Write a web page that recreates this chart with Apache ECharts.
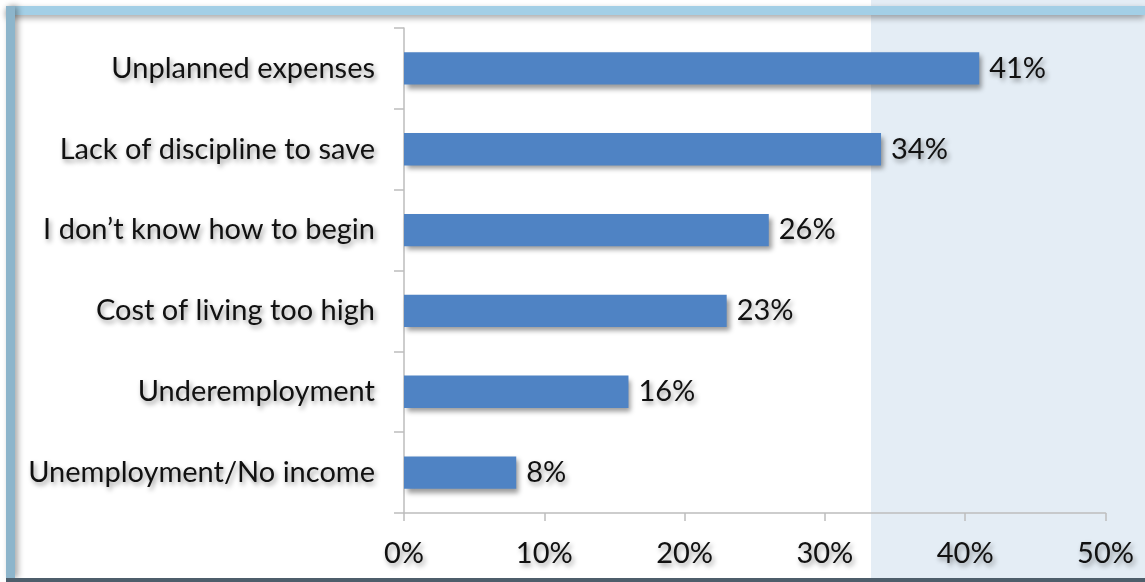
<!DOCTYPE html>
<html>
<head>
<meta charset="utf-8">
<script src="https://cdn.jsdelivr.net/npm/echarts@6/dist/echarts.min.js"></script>
<style>
  html, body { margin: 0; padding: 0; background: #ffffff; }
  #chart { width: 1145px; height: 582px; }
</style>
</head>
<body>
<div id="chart"></div>
<script>
// Reasons given for not saving, share of respondents (%)
const categories = [
  'Unplanned expenses',
  'Lack of discipline to save',
  'I don\u2019t know how to begin',
  'Cost of living too high',
  'Underemployment',
  'Unemployment/No income'
];
const shares = [41, 34, 26, 23, 16, 8];
const tickLabels = ['0%', '10%', '20%', '30%', '40%', '50%'];

const FONT = 'Lato, "Open Sans", sans-serif';
const FONT_SIZE = 29;
const textShadow = {
  textShadowColor: 'rgba(0,0,0,0.4)',
  textShadowBlur: 5,
  textShadowOffsetX: 2,
  textShadowOffsetY: 3
};

const chart = echarts.init(document.getElementById('chart'), null, { renderer: 'canvas' });

chart.setOption({
  animation: false,
  backgroundColor: '#ffffff',
  graphic: [
    // tinted panel on the right side
    { type: 'rect', z: -10, silent: true,
      shape: { x: 871, y: 0, width: 274, height: 582 },
      style: { fill: '#e4edf5' } },
    // frame: top edge
    { type: 'rect', z: 50, silent: true,
      shape: { x: 6, y: 6, width: 1139, height: 9 },
      style: { fill: '#a3cfe6', shadowColor: 'rgba(0,0,0,0.35)', shadowBlur: 6, shadowOffsetY: 3 } },
    // frame: left edge
    { type: 'rect', z: 51, silent: true,
      shape: { x: 6, y: 6, width: 9, height: 572 },
      style: { fill: '#8db5cb', shadowColor: 'rgba(0,0,0,0.35)', shadowBlur: 6, shadowOffsetX: 3 } },
    // frame: bottom edge
    { type: 'rect', z: 52, silent: true,
      shape: { x: 6, y: 578, width: 1139, height: 4 },
      style: { fill: '#4e5e6b' } }
  ],
  grid: {
    left: 404,
    right: 39.5,
    top: 28,
    bottom: 69,
    containLabel: false
  },
  xAxis: {
    type: 'value',
    min: 0,
    max: 50,
    interval: 10,
    axisLine: { show: true, lineStyle: { color: '#bdbdbd', width: 1.5 } },
    axisTick: { show: true, length: 8, lineStyle: { color: '#bdbdbd', width: 1.5 } },
    splitLine: { show: false },
    axisLabel: {
      margin: 26,
      fontFamily: FONT,
      fontSize: FONT_SIZE,
      color: '#111111',
      formatter: function (v) { return tickLabels[Math.round(v / 10)]; },
      ...textShadow
    }
  },
  yAxis: {
    type: 'category',
    data: categories,
    inverse: true,
    axisLine: { show: true, lineStyle: { color: '#bdbdbd', width: 1.5 } },
    axisTick: { show: true, length: 10, lineStyle: { color: '#bdbdbd', width: 1.5 } },
    axisLabel: {
      margin: 29,
      fontFamily: FONT,
      fontSize: FONT_SIZE,
      color: '#111111',
      ...textShadow
    }
  },
  series: [{
    type: 'bar',
    data: shares,
    barWidth: '40%',
    itemStyle: {
      color: '#4f83c4',
      shadowColor: 'rgba(0,0,0,0.4)',
      shadowBlur: 5,
      shadowOffsetX: 3,
      shadowOffsetY: 4
    },
    label: {
      show: true,
      position: 'right',
      distance: 10,
      fontFamily: FONT,
      fontSize: FONT_SIZE,
      color: '#111111',
      formatter: function (p) { return p.value + '%'; },
      ...textShadow
    }
  }]
});
</script>
</body>
</html>
